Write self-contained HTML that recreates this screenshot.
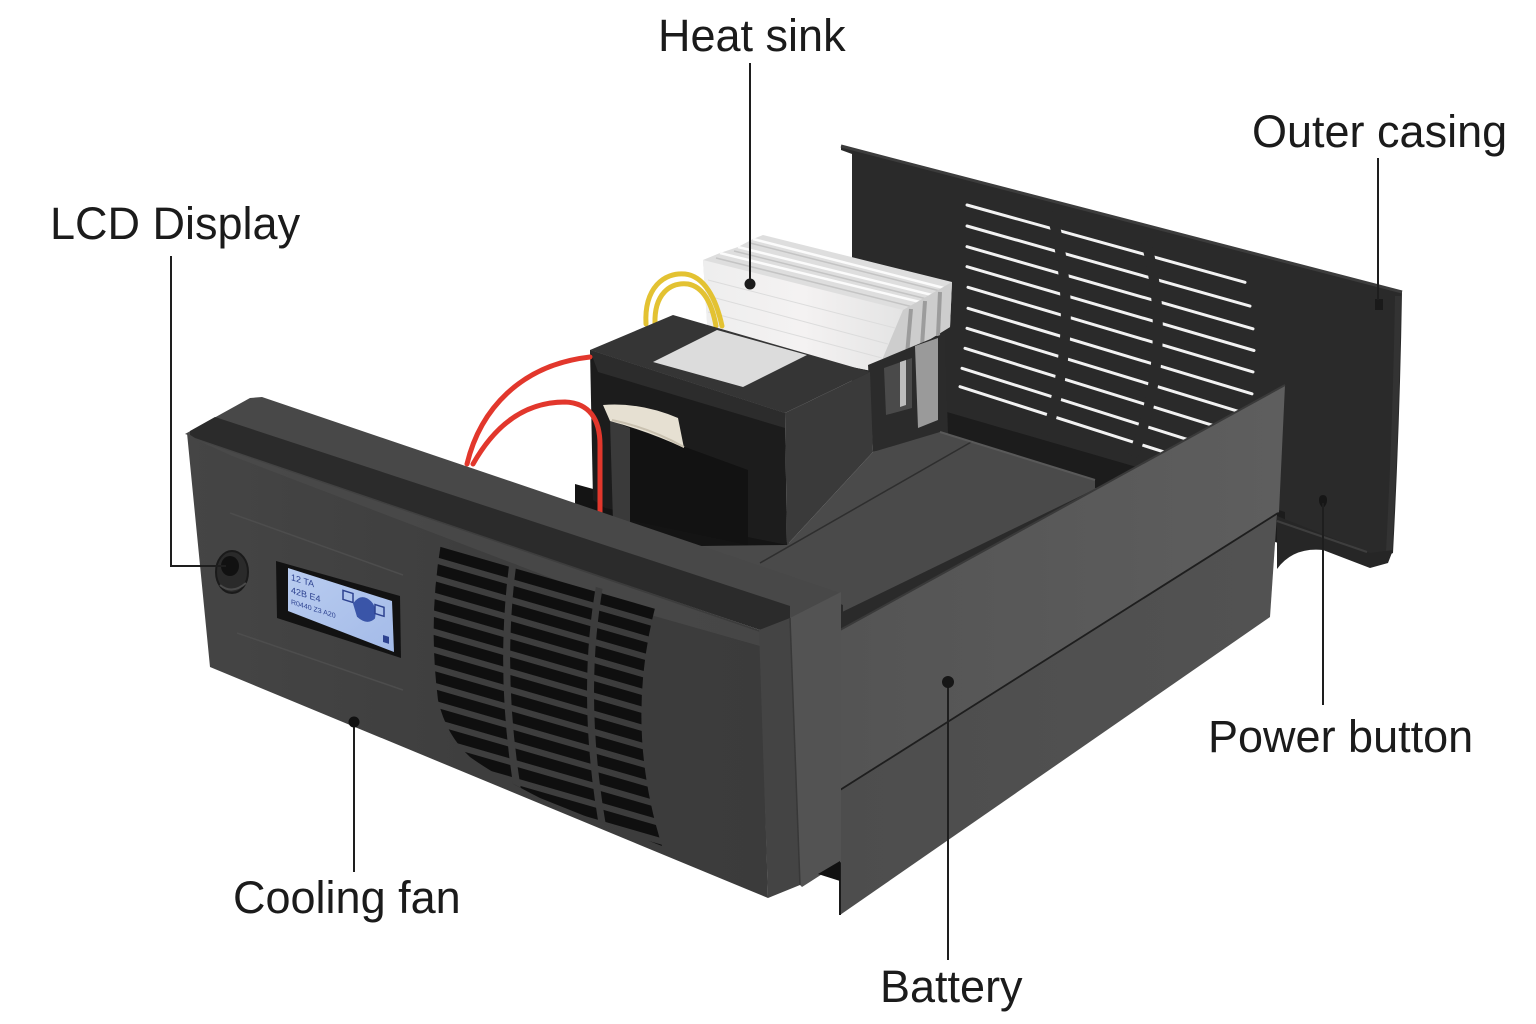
<!DOCTYPE html>
<html>
<head>
<meta charset="utf-8">
<style>
  html,body{margin:0;padding:0;background:#fff;}
  svg{display:block;}
  .lbl{font-family:"Liberation Sans",Arial,sans-serif;font-size:45px;fill:#1b1b1b;}
</style>
</head>
<body>
<svg width="1536" height="1024" viewBox="0 0 1536 1024" xmlns="http://www.w3.org/2000/svg">
  <defs>
    <linearGradient id="faceG" x1="0" y1="0" x2="1" y2="0">
      <stop offset="0" stop-color="#454545"/>
      <stop offset="0.5" stop-color="#3e3e3e"/>
      <stop offset="1" stop-color="#3b3b3b"/>
    </linearGradient>
    <linearGradient id="sideU" x1="0" y1="0" x2="1" y2="0">
      <stop offset="0" stop-color="#545454"/>
      <stop offset="1" stop-color="#5e5e5e"/>
    </linearGradient>
    <linearGradient id="sideL" x1="0" y1="0" x2="1" y2="0">
      <stop offset="0" stop-color="#4d4d4d"/>
      <stop offset="1" stop-color="#525252"/>
    </linearGradient>
    <linearGradient id="hsG" x1="0" y1="0" x2="1" y2="0">
      <stop offset="0" stop-color="#eeeeee"/>
      <stop offset="0.5" stop-color="#f4f2f2"/>
      <stop offset="1" stop-color="#e4e4e4"/>
    </linearGradient>
    <linearGradient id="lcdG" x1="0" y1="0" x2="1" y2="1">
      <stop offset="0" stop-color="#b9ccf0"/>
      <stop offset="1" stop-color="#a4bbe8"/>
    </linearGradient>
    <clipPath id="faceClip">
      <path d="M187,433 L195,438 L760,630 L768,898 L210,667 Z"/>
    </clipPath>
    <clipPath id="grille">
      <path d="M441,543 L656,604 Q624,725 662,846 L600,822 L540,798 Q495,775 470,757 Q446,735 438,700 Q428,620 441,543 Z"/>
    </clipPath>
  </defs>

  <!-- ===== Back panel (outer casing) ===== -->
  <path d="M841,146 L1402,292 Q1400,420 1393,553 L1372,563 L1277,520 L1100,470 L940,440 L852,430 L852,154 L841,150 Z" fill="#2a2a2a"/>
  <path d="M841,146 L1402,292" stroke="#3c3c3c" stroke-width="3" fill="none"/>
  <path d="M1398,296 Q1396,420 1389,552" stroke="#333" stroke-width="6" fill="none"/>

  <!-- vents -->
  <g stroke="#f2f2f2" stroke-width="3" stroke-linecap="round">
    <line x1="967" y1="205" x2="1245" y2="282.3"/>
    <line x1="967" y1="226" x2="1250" y2="306.1"/>
    <line x1="967" y1="246.7" x2="1253" y2="328.8"/>
    <line x1="967" y1="266.7" x2="1254" y2="350.5"/>
    <line x1="968" y1="287.3" x2="1253" y2="371.9"/>
    <line x1="968" y1="308.3" x2="1252" y2="393.8"/>
    <line x1="967" y1="328.3" x2="1250" y2="414.9"/>
    <line x1="965" y1="348.3" x2="1248" y2="436.3"/>
    <line x1="962" y1="368.3" x2="1245" y2="457.7"/>
    <line x1="960" y1="386.7" x2="1240" y2="476.3"/>
  </g>
  <path d="M1051,212 Q1083,322 1046,435" stroke="#2a2a2a" stroke-width="10" fill="none"/>
  <path d="M1146,242 Q1175,350 1133,456" stroke="#2a2a2a" stroke-width="10" fill="none"/>

  <!-- floor rail -->
  <path d="M940,410 L1140,468 L1285,512 L1285,545 L940,442 Z" fill="#1c1c1c"/>

  <!-- bottom flange of back panel -->
  <path d="M1277,516 L1370,553 L1393,550 L1388,563 L1370,568 L1323,550 Q1293,547 1277,569 Z" fill="#262626"/>
  <path d="M1277,521 L1367,552" stroke="#3e3e3e" stroke-width="2" fill="none"/>
  <rect x="1375" y="299" width="8" height="11" fill="#1a1a1a"/>
  <path d="M1323,495 q4,0 4,5 q0,5 -4,8 q-4,-3 -4,-8 q0,-5 4,-5 Z" fill="#161616"/>

  <!-- ===== Heat sink ===== -->
  <path d="M703,260 L720,253 L738,247 L753,239 L763,235 L952,282 L950,327 L877,372 L708,338 Z" fill="#dedede"/>
  <path d="M703,260 L903,310 L877,372 L708,338 Z" fill="url(#hsG)"/>
  <g stroke="#fbfbfb" stroke-width="2.5">
    <line x1="720" y1="253" x2="920" y2="302"/>
    <line x1="738" y1="247" x2="932" y2="295"/>
    <line x1="753" y1="239" x2="944" y2="288"/>
  </g>
  <g stroke="#c4c4c4" stroke-width="1.5">
    <line x1="716" y1="258" x2="913" y2="307"/>
    <line x1="734" y1="251" x2="927" y2="299"/>
    <line x1="750" y1="243" x2="940" y2="291"/>
  </g>
  <g stroke="#dcdcdc" stroke-width="1">
    <line x1="708" y1="280" x2="895" y2="328"/>
    <line x1="708" y1="296" x2="888" y2="344"/>
    <line x1="708" y1="312" x2="882" y2="358"/>
  </g>
  <path d="M903,310 L952,282 L950,327 L877,372 Z" fill="#cdcdcd"/>
  <g stroke="#9c9c9c" stroke-width="4">
    <line x1="911" y1="309" x2="907" y2="355"/>
    <line x1="925" y1="301" x2="922" y2="346"/>
    <line x1="940" y1="292" x2="938" y2="336"/>
  </g>

  <!-- bracket under heat sink -->
  <path d="M868,365 L945,333 L948,435 L873,452 Z" fill="#2b2b2b"/>
  <path d="M915,346 L938,338 L938,420 L918,428 Z" fill="#9a9a9a"/>
  <path d="M884,368 L912,358 L912,408 L886,415 Z" fill="#4a4a4a"/>
  <path d="M900,362 L906,360 L906,405 L900,407 Z" fill="#bdbdbd"/>

  <!-- yellow wire -->
  <g stroke="#e3c232" stroke-width="5" fill="none" stroke-linecap="round">
    <path d="M646,324 C644,288 664,272 685,274 C704,276 716,298 722,326"/>
    <path d="M655,324 C654,294 670,282 688,284 C704,287 712,304 716,326"/>
  </g>

  <!-- cavity -->
  <path d="M575,484 L800,546 L800,588 L575,524 Z" fill="#141414"/>

  <!-- ===== Transformer ===== -->
  <path d="M785,413 L870,372 L873,452 L787,545 Z" fill="#3a3a3a"/>
  <path d="M590,350 L673,315 L870,372 L785,413 Z" fill="#353535"/>
  <path d="M653,362 L717,330 L807,355 L743,387 Z" fill="#dcdcdc"/>
  <path d="M590,350 L785,413 L787,545 L605,508 L593,500 Z" fill="#1c1c1c"/>
  <path d="M590,350 L785,413 L785,428 L598,372 Z" fill="#2c2c2c"/>
  <path d="M610,420 L685,447 L748,470 L748,545 L615,517 Z" fill="#121212"/>
  <path d="M610,420 L630,428 L630,530 L613,522 Z" fill="#3a3a3a"/>
  <path d="M603,405 Q640,402 678,418 L684,448 Q650,432 610,421 Z" fill="#e6e0d2"/>
  <path d="M612,420 Q650,428 684,447" stroke="#c9c1b0" stroke-width="2" fill="none"/>

  <!-- red wires -->
  <g stroke="#e2372c" stroke-width="5" fill="none" stroke-linecap="round">
    <path d="M467,464 C480,410 520,365 590,357"/>
    <path d="M473,464 C495,425 525,402 565,402 C590,403 600,420 600,445 L600,512"/>
  </g>

  <!-- corner filler -->
  <path d="M826,588 L852,588 L852,640 L826,640 Z" fill="#2a2a2a"/>

  <!-- ===== Battery top ===== -->
  <path d="M700,546 L787,545 L873,452 L940,432 L1095,480 L1095,498 L843,628 L843,605 L830,600 L700,560 Z" fill="#4a4a4a"/>
  <path d="M973,441 L760,563" stroke="#2e2e2e" stroke-width="1.5"/>
  <path d="M940,432 L1095,480" stroke="#595959" stroke-width="2"/>
  <path d="M838,614 L1093,490 L1093,506 L838,631 Z" fill="#2a2a2a"/>

  <!-- ===== Side panel ===== -->
  <path d="M840,630 L1285,385 L1279,512 L840,790 Z" fill="url(#sideU)"/>
  <path d="M840,790 L1277,514 L1270,617 L840,915 Z" fill="url(#sideL)"/>
  <path d="M840,630 L1285,385" stroke="#3a3a3a" stroke-width="2"/>
  <path d="M840,790 L1278,513" stroke="#1e1e1e" stroke-width="1.8"/>
  <path d="M840,628 L840,915" stroke="#1a1a1a" stroke-width="2"/>

  <!-- ===== Front box ===== -->
  <path d="M185,434 L250,398 L262,397 L840,593 L840,600 L790,620 Z" fill="#484848"/>
  <path d="M190,431 L215,417 L790,606 L790,620 L760,630 L190,438 Z" fill="#2b2b2b"/>
  <path d="M187,433 L195,438 L760,630 L768,898 L210,667 Z" fill="url(#faceG)"/>
  <path d="M197,440 L760,632 L760,646 L640,612 L232,456 Z" fill="#4b4b4b" opacity="0.7"/>
  <path d="M759,630 L790,618 L800,885 L768,898 Z" fill="#444"/>
  <path d="M790,618 L841,592 L841,862 L802,887 L800,885 Z" fill="#535353"/>
  <path d="M790,618 L800,885" stroke="#383838" stroke-width="1.5"/>
  <path d="M818,874 L840,861 L840,881 Z" fill="#111"/>

  <!-- face grooves -->
  <path d="M230,513 L403,575" stroke="#4d4d4d" stroke-width="1.5"/>
  <path d="M237,633 L403,690" stroke="#4d4d4d" stroke-width="1.5"/>

  <!-- grille -->
  <g clip-path="url(#faceClip)">
  <g clip-path="url(#grille)">
    <g fill="#0f0f0f">
      <path d="M420,541 L680,616 L680,627.5 L420,552.5 Z"/>
      <path d="M420,559 L680,634 L680,645.5 L420,570.5 Z"/>
      <path d="M420,577 L680,652 L680,663.5 L420,588.5 Z"/>
      <path d="M420,595 L680,670 L680,681.5 L420,606.5 Z"/>
      <path d="M420,613 L680,688 L680,699.5 L420,624.5 Z"/>
      <path d="M420,631 L680,706 L680,717.5 L420,642.5 Z"/>
      <path d="M420,649 L680,724 L680,735.5 L420,660.5 Z"/>
      <path d="M420,667 L680,742 L680,753.5 L420,678.5 Z"/>
      <path d="M420,685 L680,760 L680,771.5 L420,696.5 Z"/>
      <path d="M420,703 L680,778 L680,789.5 L420,714.5 Z"/>
      <path d="M420,721 L680,796 L680,807.5 L420,732.5 Z"/>
      <path d="M420,739 L680,814 L680,825.5 L420,750.5 Z"/>
      <path d="M420,757 L680,832 L680,843.5 L420,768.5 Z"/>
      <path d="M420,775 L680,850 L680,861.5 L420,786.5 Z"/>
    </g>
    <path d="M514,555 Q496,680 522,815" stroke="#3e3e3e" stroke-width="7" fill="none"/>
    <path d="M600,583 Q578,705 607,850" stroke="#3c3c3c" stroke-width="7" fill="none"/>
  </g>
  </g>

  <!-- LCD -->
  <path d="M276,561 L400,596 L401,658 L277,618 Z" fill="#121212"/>
  <path d="M288,568 L392,601 L394,652 L288,611 Z" fill="url(#lcdG)"/>
  <g transform="translate(291,580) skewY(17.5)" fill="#2d4290" font-family="Liberation Sans, Arial, sans-serif">
    <text x="0" y="0" font-size="9">12 TA</text>
    <text x="0" y="13" font-size="9">42B E4</text>
    <text x="0" y="24" font-size="7">R0440 Z3 A20</text>
    <rect x="52" y="-6" width="10" height="9" fill="none" stroke="#2d4290" stroke-width="1.5"/>
    <path d="M62,4 q8,-14 18,-8 q6,4 4,16 q-8,10 -18,4 Z" fill="#3a55a8"/>
    <rect x="84" y="-2" width="9" height="9" fill="none" stroke="#2d4290" stroke-width="1.5"/>
    <rect x="92" y="26" width="6" height="7" fill="#2d4290"/>
  </g>

  <!-- power button -->
  <ellipse cx="232" cy="572" rx="16" ry="21" fill="#2a2a2a" stroke="#1a1a1a" stroke-width="2"/>
  <ellipse cx="230" cy="566" rx="9" ry="10" fill="#111"/>
  <path d="M220,585 q12,10 26,-2" stroke="#4a4a4a" stroke-width="2" fill="none"/>

  <!-- ===== Leader lines & dots ===== -->
  <g stroke="#1e1e1e" stroke-width="2" fill="none">
    <path d="M750,63 V284"/>
    <path d="M1378,158 V300"/>
    <path d="M171,256 V566 H226"/>
    <path d="M354,722 V872"/>
    <path d="M948,682 V960"/>
    <path d="M1323,503 V705"/>
  </g>
  <circle cx="750" cy="284" r="5.5" fill="#1c1c1c"/>
  <circle cx="354" cy="722" r="5.5" fill="#111"/>
  <circle cx="948" cy="682" r="6" fill="#161616"/>

  <!-- ===== Labels ===== -->
  <text class="lbl" x="658" y="51">Heat sink</text>
  <text class="lbl" x="1252" y="147">Outer casing</text>
  <text class="lbl" x="50" y="239">LCD Display</text>
  <text class="lbl" x="1208" y="752">Power button</text>
  <text class="lbl" x="233" y="913">Cooling fan</text>
  <text class="lbl" x="880" y="1002">Battery</text>
</svg>
</body>
</html>
